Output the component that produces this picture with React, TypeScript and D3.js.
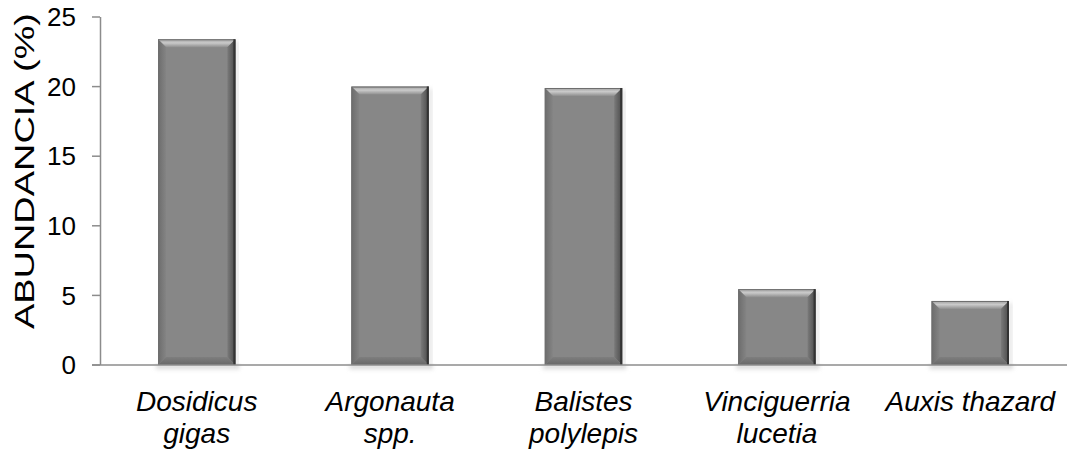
import React from "react";
import * as d3 from "d3";

const categories: string[][] = [
  ["Dosidicus", "gigas"],
  ["Argonauta", "spp."],
  ["Balistes", "polylepis"],
  ["Vinciguerria", "lucetia"],
  ["Auxis thazard"],
];
const values: number[] = [23.4, 20.0, 19.9, 5.45, 4.6];
const yTicks: number[] = [0, 5, 10, 15, 20, 25];
const yLabel = "ABUNDANCIA (%)";

const W = 1073;
const H = 452;
const margin = { left: 100, top: 17, right: 6, bottom: 87 };

export default function App() {
  const x = d3
    .scaleBand<number>()
    .domain(values.map((_, i) => i))
    .range([margin.left, W - margin.right])
    .paddingInner(0.6)
    .paddingOuter(0.3);
  const y = d3.scaleLinear().domain([0, 25]).range([H - margin.bottom, margin.top]);
  const bw = x.bandwidth();
  const bev = 8;
  const font = "'Liberation Sans', Arial, sans-serif";
  const y0 = y(0);

  return (
    <div style={{ position: "absolute", left: 0, top: 0 }}>
      <svg width={W} height={H} style={{ display: "block" }}>
        <defs>
          <linearGradient id="topG" x1="0" y1="0" x2="0" y2="1">
            <stop offset="0" stopColor="#a0a0a0" />
            <stop offset="0.45" stopColor="#cacaca" />
            <stop offset="1" stopColor="#8e8e8e" />
          </linearGradient>
          <linearGradient id="leftG" x1="0" y1="0" x2="1" y2="0">
            <stop offset="0" stopColor="#6c6c6c" />
            <stop offset="1" stopColor="#848484" />
          </linearGradient>
          <linearGradient id="rightG" x1="0" y1="0" x2="1" y2="0">
            <stop offset="0" stopColor="#7a7a7a" />
            <stop offset="1" stopColor="#4a4a4a" />
          </linearGradient>
          <linearGradient id="botG" x1="0" y1="0" x2="0" y2="1">
            <stop offset="0" stopColor="#7e7e7e" />
            <stop offset="1" stopColor="#686868" />
          </linearGradient>
          <linearGradient id="shadowG" x1="0" y1="0" x2="0" y2="1">
            <stop offset="0" stopColor="#999" stopOpacity="0.8" />
            <stop offset="1" stopColor="#fff" stopOpacity="0" />
          </linearGradient>
          <filter id="blur" x="-20%" y="-20%" width="140%" height="140%">
            <feGaussianBlur stdDeviation="2" />
          </filter>
        </defs>

        {/* bars */}
        {values.map((v, i) => {
          const x0 = x(i)!;
          const x1 = x0 + bw;
          const yt = y(v);
          const b = Math.min(bev, (y0 - yt) / 2);
          return (
            <g key={i}>
              <rect x={x0 - 2} y={y0} width={bw + 6} height={7} fill="url(#shadowG)" filter="url(#blur)" />
              <rect x={x1} y={yt + 2} width={3} height={y0 - yt - 2} fill="#bbb" opacity={0.5} filter="url(#blur)" />
              <rect x={x0} y={yt} width={bw} height={y0 - yt} fill="#878787" />
              <path d={`M${x0},${yt}L${x1},${yt}L${x1 - b},${yt + b}L${x0 + b},${yt + b}Z`} fill="url(#topG)" />
              <path d={`M${x0},${yt}L${x0 + b},${yt + b}L${x0 + b},${y0 - b}L${x0},${y0}Z`} fill="url(#leftG)" />
              <path d={`M${x1},${yt}L${x1 - b},${yt + b}L${x1 - b},${y0 - b}L${x1},${y0}Z`} fill="url(#rightG)" />
              <path d={`M${x0},${y0}L${x0 + b},${y0 - b}L${x1 - b},${y0 - b}L${x1},${y0}Z`} fill="url(#botG)" />
              <rect x={x0 + 0.5} y={yt + 0.5} width={bw - 1} height={y0 - yt - 1} fill="none" stroke="#6e6e6e" strokeWidth={1} />
              <line x1={x1 - 1} x2={x1 - 1} y1={yt} y2={y0} stroke="#333" strokeWidth={2} />
            </g>
          );
        })}

        {/* y axis */}
        <line x1={margin.left + 0.5} x2={margin.left + 0.5} y1={y(25)} y2={y0} stroke="#8c8c8c" strokeWidth={1.5} />
        {yTicks.map((t) => (
          <g key={t}>
            <line x1={margin.left - 8} x2={margin.left} y1={y(t)} y2={y(t)} stroke="#8c8c8c" strokeWidth={1.5} />
            <text
              x={margin.left - 24}
              y={y(t)}
              dy="0.35em"
              textAnchor="end"
              fontFamily={font}
              fontSize={26}
              fill="#000"
            >
              {t}
            </text>
          </g>
        ))}
        {/* x axis */}
        <line x1={margin.left - 8} x2={W - margin.right} y1={y0} y2={y0} stroke="#8c8c8c" strokeWidth={1.5} />

        {/* category labels */}
        {categories.map((lines, i) => (
          <text
            key={i}
            x={x(i)! + bw / 2}
            y={y0 + 46}
            textAnchor="middle"
            fontFamily={font}
            fontSize={28}
            fontStyle="italic"
            fill="#000"
          >
            {lines.map((l, j) => (
              <tspan key={j} x={x(i)! + bw / 2} dy={j === 0 ? 0 : 32}>
                {l}
              </tspan>
            ))}
          </text>
        ))}

        {/* y label */}
        <text
          transform={`translate(34,171) rotate(-90)`}
          textAnchor="middle"
          fontFamily={font}
          fontSize={27}
          textLength={316}
          lengthAdjust="spacingAndGlyphs"
          fill="#000"
        >
          {yLabel}
        </text>
      </svg>
    </div>
  );
}
